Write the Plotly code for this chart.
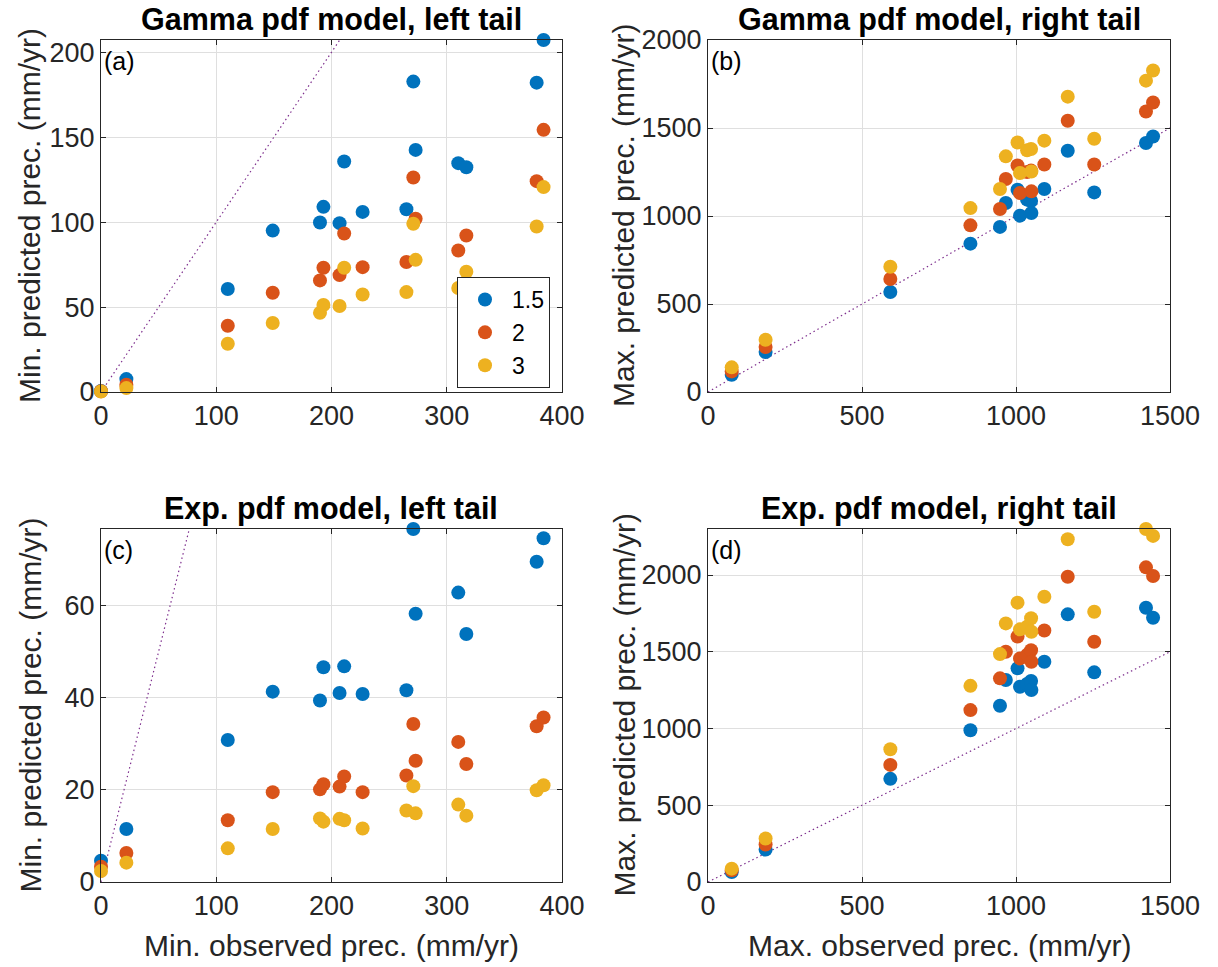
import plotly.graph_objects as go

# Observed extremes at each station (mm/yr)
min_observed = [0, 22, 110, 149, 190, 193, 207, 211, 227, 265, 271, 273, 310, 317, 378, 384]
max_observed = [77, 187, 592, 852, 948, 967, 1005, 1013, 1036, 1049, 1050, 1092, 1168, 1254, 1422, 1445]

# Predicted extremes for return factors 1.5, 2 and 3
gamma_left_15 = [0.6, 7.6, 60.6, 95.0, 99.8, 109.0, 99.4, 135.7, 106.0, 107.6, 182.7, 142.5, 134.7, 132.3, 182.1, 207.2]
gamma_left_2 = [0.4, 4.3, 39.0, 58.4, 65.7, 73.1, 68.8, 93.3, 73.5, 76.5, 126.3, 102.0, 83.3, 92.1, 124.1, 154.3]
gamma_left_3 = [0.3, 2.3, 28.4, 40.6, 46.6, 51.2, 50.6, 73.1, 57.4, 58.8, 99.0, 77.8, 61.2, 70.8, 97.4, 120.6]

gamma_right_15 = [98, 227, 568, 843, 938, 1074, 1149, 1002, 1093, 1085, 1017, 1153, 1371, 1134, 1415, 1452]
gamma_right_2 = [117, 256, 642, 947, 1040, 1210, 1287, 1131, 1250, 1258, 1140, 1293, 1541, 1293, 1594, 1645]
gamma_right_3 = [140, 297, 712, 1045, 1153, 1339, 1418, 1244, 1373, 1381, 1253, 1428, 1678, 1439, 1769, 1827]

exp_left_15 = [4.6, 11.5, 30.8, 41.3, 39.4, 46.6, 41.0, 46.8, 40.8, 41.6, 76.6, 58.2, 62.8, 53.8, 69.5, 74.6]
exp_left_2 = [3.3, 6.3, 13.4, 19.5, 20.1, 21.2, 20.7, 22.9, 19.5, 23.1, 34.3, 26.3, 30.4, 25.6, 33.8, 35.7]
exp_left_3 = [2.4, 4.2, 7.3, 11.5, 13.8, 13.1, 13.7, 13.4, 11.6, 15.5, 20.8, 14.9, 16.8, 14.4, 19.9, 21.0]

exp_right_15 = [65, 211, 672, 989, 1148, 1316, 1392, 1272, 1290, 1310, 1251, 1435, 1744, 1366, 1787, 1722]
exp_right_2 = [76, 244, 763, 1120, 1327, 1500, 1600, 1457, 1480, 1510, 1435, 1639, 1989, 1565, 2050, 1994]
exp_right_3 = [87, 283, 865, 1278, 1485, 1685, 1820, 1646, 1663, 1718, 1631, 1859, 2233, 1761, 2300, 2255]

factor_names = ["1.5", "2", "3"]
colors = ["#0072BD", "#D95319", "#EDB120"]

# (label, title, x data, series, x limit, y limit, x ticks, y ticks)
panels = [
    ("(a)", "Gamma pdf model, left tail", min_observed,
     [gamma_left_15, gamma_left_2, gamma_left_3], 400, max(gamma_left_15),
     [0, 100, 200, 300, 400], [0, 50, 100, 150, 200]),
    ("(b)", "Gamma pdf model, right tail", max_observed,
     [gamma_right_15, gamma_right_2, gamma_right_3], 1500, 2000,
     [0, 500, 1000, 1500], [0, 500, 1000, 1500, 2000]),
    ("(c)", "Exp. pdf model, left tail", min_observed,
     [exp_left_15, exp_left_2, exp_left_3], 400, max(exp_left_15),
     [0, 100, 200, 300, 400], [0, 20, 40, 60]),
    ("(d)", "Exp. pdf model, right tail", max_observed,
     [exp_right_15, exp_right_2, exp_right_3], 1500, max(exp_right_3),
     [0, 500, 1000, 1500], [0, 500, 1000, 1500, 2000]),
]

W, H = 1218, 967
FONT = "Liberation Sans, Arial, Helvetica, sans-serif"
INK = "#262626"

x_px = [(101, 562), (708, 1170)]
y_px = [(40, 392), (529, 882)]
x_domains = [[a / W, b / W] for a, b in x_px]
y_domains = [[1 - b / H, 1 - a / H] for a, b in y_px]
# horizontal centre of the y-axis title, left of each column's axis
ytitle_px = [30, 624]

fig = go.Figure()

for i, (label, title, xs, series, xmax, ymax, xt, yt) in enumerate(panels):
    sfx = "" if i == 0 else str(i + 1)
    xa, ya = "x" + sfx, "y" + sfx
    # 1:1 reference line
    fig.add_trace(go.Scatter(
        x=[0, xmax], y=[0, xmax], mode="lines", xaxis=xa, yaxis=ya,
        line=dict(color="#7E2F8E", width=1.2, dash="1.5px,3px"),
        showlegend=False, hoverinfo="skip"))
    for name, ys, col in zip(factor_names, series, colors):
        fig.add_trace(go.Scatter(
            x=xs, y=ys, mode="markers", name=name, xaxis=xa, yaxis=ya,
            marker=dict(size=14, color=col, line=dict(width=0)),
            cliponaxis=False, showlegend=(i == 0)))

axis_style = dict(
    showline=True, linecolor=INK, linewidth=1, mirror="ticks",
    ticks="inside", ticklen=5, tickcolor=INK, tickwidth=1,
    showgrid=True, gridcolor="#dfdfdf", gridwidth=1, zeroline=False,
    automargin=False,
    tickfont=dict(family=FONT, size=27, color=INK),
)

layout_axes = {}
annotations = []
for i, (label, title, xs, series, xmax, ymax, xt, yt) in enumerate(panels):
    row, col = divmod(i, 2)
    sfx = "" if i == 0 else str(i + 1)
    layout_axes["xaxis" + sfx] = dict(
        axis_style, domain=x_domains[col], anchor="y" + sfx,
        range=[0, xmax], tickvals=xt)
    layout_axes["yaxis" + sfx] = dict(
        axis_style, domain=y_domains[row], anchor="x" + sfx,
        range=[0, ymax], tickvals=yt)

    left = xs is min_observed
    kind = "Min." if left else "Max."
    x0, x1 = x_px[col]
    y0, y1 = y_px[row]

    # subplot title
    annotations.append(dict(
        text="<b>%s</b>" % title, xref="paper", yref="paper",
        x=(x0 + x1) / 2 / W, y=1 - (y0 - 21) / H,
        xanchor="center", yanchor="middle", showarrow=False,
        font=dict(family=FONT, size=30.5, color="black")))
    # panel letter
    annotations.append(dict(
        text=label, xref="paper", yref="paper",
        x=(x0 + 1) / W, y=1 - (y0 + 21) / H,
        xanchor="left", yanchor="middle", showarrow=False,
        font=dict(family=FONT, size=25, color="black")))
    # y-axis title
    annotations.append(dict(
        text="%s predicted prec. (mm/yr)" % kind, xref="paper", yref="paper",
        x=ytitle_px[col] / W, y=1 - (y0 + y1) / 2 / H, textangle=-90,
        xanchor="center", yanchor="middle", showarrow=False,
        font=dict(family=FONT, size=30, color=INK)))
    # x-axis title on the bottom row
    if row == 1:
        annotations.append(dict(
            text="%s observed prec. (mm/yr)" % kind, xref="paper", yref="paper",
            x=(x0 + x1) / 2 / W, y=1 - 945 / H,
            xanchor="center", yanchor="middle", showarrow=False,
            font=dict(family=FONT, size=30, color=INK)))

fig.update_layout(
    width=W, height=H, margin=dict(l=0, r=0, t=0, b=0),
    paper_bgcolor="white", plot_bgcolor="white",
    font=dict(family=FONT, color=INK),
    annotations=annotations,
    legend=dict(
        x=457 / W, y=1 - 277 / H, xanchor="left", yanchor="top",
        bgcolor="white", bordercolor=INK, borderwidth=1,
        font=dict(family=FONT, size=23, color="black"),
        itemwidth=44, tracegroupgap=0),
    **layout_axes,
)

fig.write_html("out.html")
